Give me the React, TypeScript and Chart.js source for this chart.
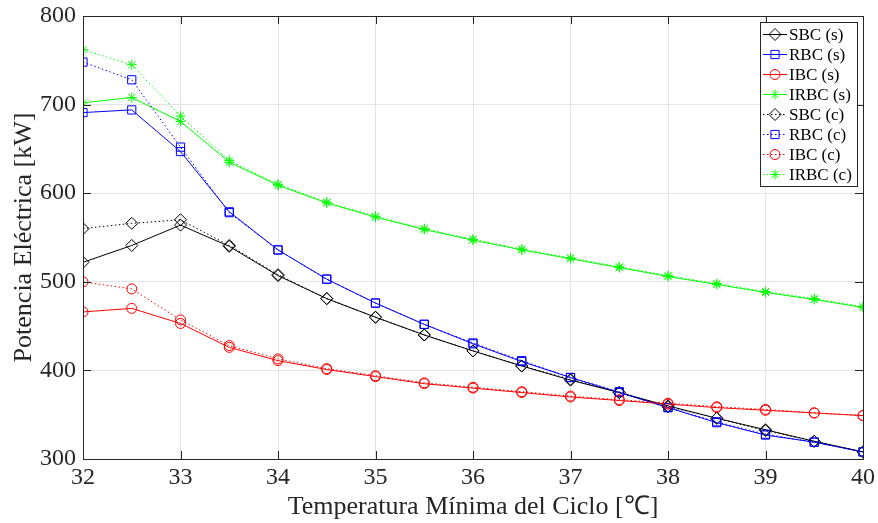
import React, { useEffect, useRef } from "react";
import { Chart, registerables } from "chart.js";

Chart.register(...registerables);

const temps = [32, 32.5, 33, 33.5, 34, 34.5, 35, 35.5, 36, 36.5, 37, 37.5, 38, 38.5, 39, 39.5, 40];

const sbcS = [522, 541, 564, 540, 507, 481, 460, 440, 422, 405, 389, 375, 360, 346, 333, 320, 308];
const rbcS = [691, 694, 647, 579, 536, 503, 476, 452, 430, 410, 392, 375, 358, 341, 327, 319, 308];
const ibcS = [466, 470, 453, 426, 411, 401, 393, 385, 380, 375, 370, 366, 362, 358, 355, 352, 349];
const irbcS = [702, 708, 681, 635, 609, 589, 573, 559, 547, 536, 526, 516, 506, 497, 488, 480, 471];

const sbcC = [560, 566, 570, 541, 508, 481, 460, 440, 422, 405, 390, 375, 359, 346, 332, 320, 308];
const rbcC = [748, 728, 652, 578, 536, 503, 476, 452, 431, 411, 392, 376, 358, 342, 328, 319, 308];
const ibcC = [500, 492, 457, 428, 413, 402, 394, 386, 381, 376, 371, 367, 363, 359, 356, 352, 349];
const irbcC = [762, 745, 687, 637, 610, 590, 574, 560, 548, 537, 527, 517, 507, 498, 489, 481, 472];

const seriesLabels = ["SBC (s)", "RBC (s)", "IBC (s)", "IRBC (s)", "SBC (c)", "RBC (c)", "IBC (c)", "IRBC (c)"];
const seriesValues = [sbcS, rbcS, ibcS, irbcS, sbcC, rbcC, ibcC, irbcC];
const seriesColors = ["#000000", "#0000ff", "#ff0000", "#00ff00", "#000000", "#0000ff", "#ff0000", "#00ff00"];
const seriesMarkers = ["rectRot", "rect", "circle", "star", "rectRot", "rect", "circle", "star"];
const markerSizes: Record<string, number> = { rectRot: 6, rect: 5.8, circle: 5, star: 5 };

const xTitle = "Temperatura Mínima del Ciclo [℃]";
const yTitle = "Potencia Eléctrica [kW]";

const FONT = "'Liberation Serif', 'Times New Roman', serif";
const AXIS = "#262626";

function drawMarker(ctx: CanvasRenderingContext2D, style: string, x: number, y: number, r: number) {
  ctx.beginPath();
  if (style === "rectRot") {
    ctx.moveTo(x, y - r);
    ctx.lineTo(x + r, y);
    ctx.lineTo(x, y + r);
    ctx.lineTo(x - r, y);
    ctx.closePath();
  } else if (style === "rect") {
    const s = r * Math.SQRT1_2;
    ctx.rect(x - s, y - s, 2 * s, 2 * s);
  } else if (style === "circle") {
    ctx.arc(x, y, r, 0, Math.PI * 2);
  } else if (style === "star") {
    ctx.moveTo(x - r, y);
    ctx.lineTo(x + r, y);
    ctx.moveTo(x, y - r);
    ctx.lineTo(x, y + r);
    const d = r * Math.SQRT1_2;
    ctx.moveTo(x - d, y - d);
    ctx.lineTo(x + d, y + d);
    ctx.moveTo(x - d, y + d);
    ctx.lineTo(x + d, y - d);
  }
  ctx.stroke();
}

const framePlugin = {
  id: "frameAndLegend",
  afterDraw(chart: any) {
    const ctx: CanvasRenderingContext2D = chart.ctx;
    const { left, right, top, bottom } = chart.chartArea;
    const xs = chart.scales.x;
    const ys = chart.scales.y;
    ctx.save();
    ctx.strokeStyle = AXIS;
    ctx.lineWidth = 1;
    ctx.setLineDash([]);
    ctx.strokeRect(Math.round(left) + 0.5, Math.round(top) + 0.5, Math.round(right - left), Math.round(bottom - top));
    const tl = 8;
    ctx.beginPath();
    xs.ticks.forEach((t: any) => {
      const px = Math.round(xs.getPixelForValue(t.value)) + 0.5;
      ctx.moveTo(px, bottom);
      ctx.lineTo(px, bottom - tl);
      ctx.moveTo(px, top);
      ctx.lineTo(px, top + tl);
    });
    ys.ticks.forEach((t: any) => {
      const py = Math.round(ys.getPixelForValue(t.value)) + 0.5;
      ctx.moveTo(left, py);
      ctx.lineTo(left + tl, py);
      ctx.moveTo(right, py);
      ctx.lineTo(right - tl, py);
    });
    ctx.stroke();

    // legend
    const bx = right - 103;
    const by = top + 6;
    const bw = 97;
    const bh = 164;
    ctx.fillStyle = "#ffffff";
    ctx.fillRect(bx, by, bw, bh);
    ctx.strokeStyle = "#262626";
    ctx.strokeRect(bx + 0.5, by + 0.5, bw, bh);
    ctx.font = `17px ${FONT}`;
    ctx.textBaseline = "middle";
    ctx.textAlign = "left";
    seriesLabels.forEach((lab, i) => {
      const cy = by + 12.5 + i * 20;
      const col = seriesColors[i];
      ctx.strokeStyle = col;
      ctx.lineWidth = 1;
      ctx.setLineDash(i >= 4 ? [1.5, 2.5] : []);
      ctx.beginPath();
      ctx.moveTo(bx + 3, cy);
      ctx.lineTo(bx + 27, cy);
      ctx.stroke();
      ctx.setLineDash([]);
      drawMarker(ctx, seriesMarkers[i], bx + 15, cy, markerSizes[seriesMarkers[i]]);
      ctx.fillStyle = "#000000";
      ctx.fillText(lab, bx + 29, cy + 1);
    });
    ctx.restore();
  },
};

export default function App() {
  const canvasRef = useRef<HTMLCanvasElement | null>(null);

  useEffect(() => {
    if (!canvasRef.current) return;
    const datasets = seriesLabels.map((lab, i) => ({
      label: lab,
      data: temps.map((t, j) => ({ x: t, y: seriesValues[i][j] })),
      borderColor: seriesColors[i],
      backgroundColor: "rgba(0,0,0,0)",
      borderWidth: 1,
      borderDash: i >= 4 ? [1.5, 2.5] : [],
      pointStyle: seriesMarkers[i] as any,
      pointRadius: markerSizes[seriesMarkers[i]],
      pointBorderWidth: 1,
      pointBorderColor: seriesColors[i],
      pointBackgroundColor: "rgba(0,0,0,0)",
      tension: 0,
      fill: false,
      order: 8 - i,
    }));

    const chart = new Chart(canvasRef.current, {
      type: "line",
      data: { datasets },
      options: {
        animation: false,
        responsive: true,
        maintainAspectRatio: false,
        layout: { padding: { top: 16, right: 15, left: 0, bottom: 0 } },
        plugins: {
          legend: { display: false },
          tooltip: { enabled: false },
        },
        scales: {
          x: {
            type: "linear",
            min: 32,
            max: 40,
            ticks: {
              stepSize: 1,
              color: AXIS,
              font: { family: FONT, size: 24 },
              padding: 4,
              maxRotation: 0,
            },
            grid: { color: "#e4e4e4", drawTicks: false },
            border: { display: false },
            title: {
              display: true,
              text: xTitle,
              color: AXIS,
              font: { family: FONT, size: 26 },
              padding: { top: 0, bottom: 0 },
            },
            afterFit: (s: any) => {
              s.height = 64;
              s.paddingLeft = 0;
              s.paddingRight = 0;
            },
          },
          y: {
            type: "linear",
            min: 300,
            max: 800,
            ticks: {
              stepSize: 100,
              color: AXIS,
              font: { family: FONT, size: 24 },
              padding: 7,
            },
            grid: { color: "#e4e4e4", drawTicks: false },
            border: { display: false },
            title: {
              display: true,
              text: yTitle,
              color: AXIS,
              font: { family: FONT, size: 26 },
              padding: { top: 9, bottom: 0 },
            },
            afterFit: (s: any) => {
              s.width = 83;
              s.paddingTop = 0;
              s.paddingBottom = 0;
            },
          },
        },
      },
      plugins: [framePlugin],
    });
    return () => chart.destroy();
  }, []);

  return (
    <div style={{ position: "fixed", left: 0, top: 0, width: 878, height: 523, background: "#ffffff" }}>
      <canvas ref={canvasRef} />
    </div>
  );
}
